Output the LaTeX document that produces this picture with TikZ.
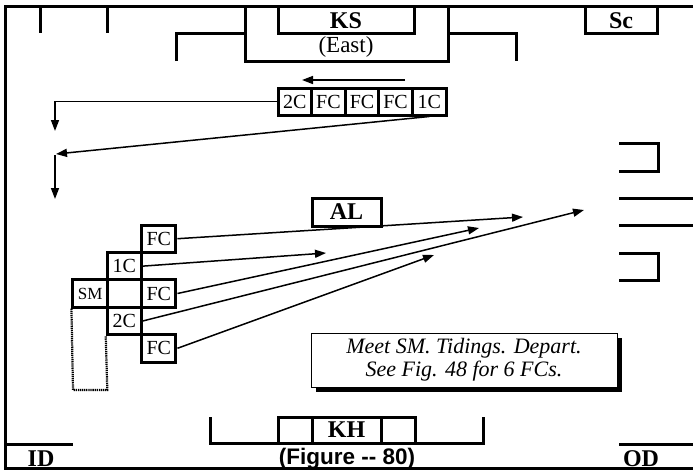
\documentclass[tikz,border=0pt]{standalone}
\usepackage{fontspec}
\setmainfont{Liberation Serif}
\newfontfamily\capfont{Liberation Sans}
\usetikzlibrary{arrows.meta,shadows}
\tikzset{
  frame/.style={line width=3pt},
  cell/.style={draw, line width=3pt, minimum width=34.3pt, minimum height=27.4pt, inner sep=0pt, font=\fontsize{20}{20}\selectfont},
  car/.style={cell, minimum width=33.6pt, minimum height=27pt},
  lab/.style={font=\fontsize{24}{24}\selectfont\bfseries, inner sep=0pt},
  arr/.style={line width=1.5pt, -{Triangle[length=11pt,width=8pt]}},
  ln/.style={line width=1.5pt},
}
\begin{document}
\begin{tikzpicture}[x=1pt,y=-1pt]
\useasboundingbox (0,0) rectangle (693,472);
% outer frame
\draw[frame] (693,6.5) -- (5.5,6.5) -- (5.5,468) -- (693,468);
% top structures
\draw[frame] (40,6.5) -- (40,33);
\draw[frame] (107,6.5) -- (107,33);
\draw[frame] (176,61) -- (176,33) -- (245,33);
\draw[frame] (245,6.5) -- (245,61) -- (448,61) -- (448,6.5);
\draw[frame] (448,33) -- (516,33) -- (516,61);
\draw[frame] (278,6.5) -- (278,33) -- (414,33) -- (414,6.5);
\draw[frame] (585,6.5) -- (585,33) -- (657,33) -- (657,6.5);
\node[lab] (ks) at (346,20.5) {KS};
\node[font=\fontsize{23}{23}\selectfont, inner sep=0pt] (east) at (346,47) {(East)};
\node[lab] (sc) at (621,20.5) {Sc};
% cars row
\node[car] (r1) at (294.8,101.5) {2C};
\node[car] (r2) at (328.4,101.5) {FC};
\node[car] (r3) at (362.0,101.5) {FC};
\node[car] (r4) at (395.6,101.5) {FC};
\node[car] (r5) at (429.2,101.5) {1C};
\coordinate (tA) at (405,80);
\coordinate (tB) at (302,80);
\draw[arr] (tA) -- (tB);
\coordinate (k1) at (55,101.5);
\coordinate (k2) at (55,131);
\draw[arr] (r1.west) -- (k1) -- (k2);
\coordinate (k3) at (56,154);
\draw[arr] (r5.south) -- (k3);
\coordinate (k4) at (55,155);
\coordinate (k5) at (55,199);
\draw[arr] (k4) -- (k5);
% AL
\node[draw, line width=3pt, minimum width=69pt, minimum height=28pt, inner sep=0pt, lab] (al) at (346.5,212) {AL};
% formation
\node[cell] (f1) at (158.8,238.7) {FC};
\node[cell] (c1) at (124.4,266.1) {1C};
\node[cell, font=\fontsize{17}{17}\selectfont] (sm) at (90.1,293.5) {SM};
\node[cell] (mid) at (124.4,293.5) {};
\node[cell] (f2) at (158.8,293.5) {FC};
\node[cell] (c2) at (124.4,320.9) {2C};
\node[cell] (f3) at (158.8,348.3) {FC};
\coordinate (d1) at (73,390);
\coordinate (d2) at (107.3,390);
\draw[line width=2.2pt, dash pattern=on 1.3pt off 0.8pt] (sm.south west) -- (d1) -- (d2) -- (c2.south west);
% arrows from formation
\coordinate (e1) at (523,217);
\coordinate (e2) at (326,253);
\coordinate (e3) at (479,228);
\coordinate (e4) at (584,210);
\coordinate (e5) at (434,255);
\draw[arr] (f1.east) -- (e1);
\draw[arr] (c1.east) -- (e2);
\draw[arr] (f2.east) -- (e3);
\draw[arr] (c2.east) -- (e4);
\draw[arr] (f3.east) -- (e5);
% right side marks
\draw[frame] (619,143) -- (658,143) -- (658,171) -- (619,171);
\draw[frame] (619,198.5) -- (693,198.5);
\draw[frame] (619,225.5) -- (693,225.5);
\draw[frame] (619,253) -- (658,253) -- (658,280) -- (619,280);
% note
\node[draw, line width=1pt, fill=white, minimum width=306pt, minimum height=54pt, inner sep=0pt, align=center,
      font=\fontsize{22}{23}\selectfont\itshape,
      drop shadow={shadow xshift=5pt, shadow yshift=-5pt, fill=black, opacity=1}] (note) at (464,360)
      {Meet SM. Tidings. Depart.\\See Fig. 48 for 6 FCs.};
% bottom KH
\draw[frame] (210,417) -- (210,443) -- (483,443) -- (483,417);
\node[cell, minimum width=34pt, minimum height=26pt] (kh1) at (295,430) {};
\node[cell, minimum width=69pt, minimum height=26pt, lab] (kh) at (346.5,430) {KH};
\node[cell, minimum width=34pt, minimum height=26pt] (kh2) at (398,430) {};
% bottom labels
\draw[frame] (5.5,444) -- (73,444);
\draw[frame] (619,444) -- (693,444);
\node[lab] (id) at (41,458.5) {ID};
\node[lab] (od) at (641,458.5) {OD};
\node[font=\fontsize{22.5}{22.5}\selectfont\capfont\bfseries, inner sep=0pt] (cap) at (347,458.5) {(Figure -{}- 80)};
\end{tikzpicture}
\end{document}
